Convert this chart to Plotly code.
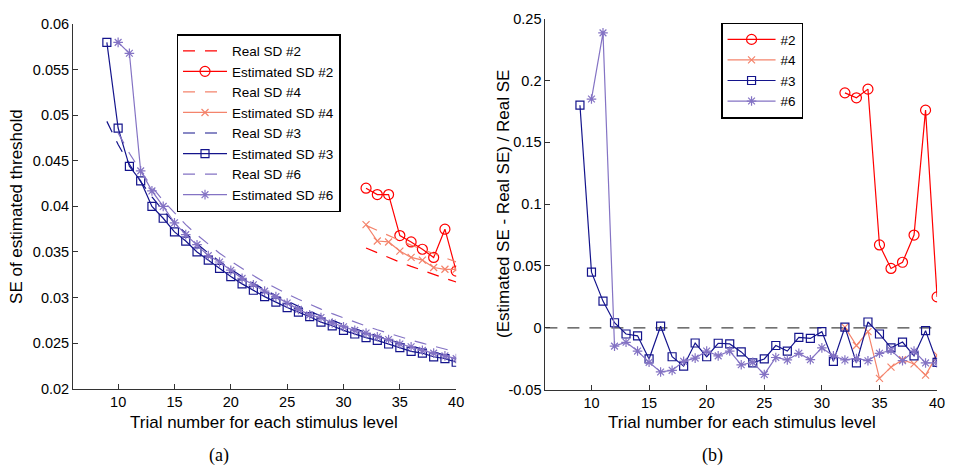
import plotly.graph_objects as go

# ---------------- data: panel (a) ----------------
n_est3 = list(range(9, 41))
est_sd3 = [0.0580, 0.0486, 0.0444, 0.0428, 0.0400, 0.0387, 0.0372, 0.0362, 0.0350, 0.0341,
           0.0332, 0.0323, 0.0315, 0.0308, 0.0301, 0.0295, 0.0289, 0.0284, 0.0279, 0.0273,
           0.0269, 0.0264, 0.0260, 0.0256, 0.0253, 0.0249, 0.0245, 0.0241, 0.0239, 0.0235,
           0.0233, 0.0229]
real_sd3 = [0.04933, 0.04680, 0.04462, 0.04272, 0.04105, 0.03955, 0.03821, 0.03700, 0.03590,
            0.03488, 0.03395, 0.03309, 0.03230, 0.03155, 0.03086, 0.03021, 0.02960, 0.02903,
            0.02848, 0.02797, 0.02748, 0.02702, 0.02658, 0.02616, 0.02576, 0.02538, 0.02502,
            0.02467, 0.02433, 0.02401, 0.02370, 0.02340]

n_est6 = list(range(10, 41))
est_sd6 = [0.0580, 0.0568, 0.0439, 0.0417, 0.0400, 0.0382, 0.0369, 0.0358, 0.0346, 0.0339,
           0.0330, 0.0321, 0.0314, 0.0307, 0.0301, 0.0294, 0.0287, 0.0281, 0.0278, 0.0272,
           0.0268, 0.0264, 0.0261, 0.0257, 0.0254, 0.0249, 0.0246, 0.0242, 0.0239, 0.0236,
           0.0233]
real_sd6 = [0.04807, 0.04583, 0.04388, 0.04216, 0.04062, 0.03925, 0.03800, 0.03687, 0.03583,
            0.03487, 0.03399, 0.03317, 0.03241, 0.03169, 0.03103, 0.03040, 0.02981, 0.02925,
            0.02873, 0.02823, 0.02775, 0.02730, 0.02687, 0.02646, 0.02607, 0.02569, 0.02533,
            0.02499, 0.02466, 0.02434, 0.02403]

n_late = list(range(32, 41))
est_sd2 = [0.0420, 0.0413, 0.0413, 0.0368, 0.0361, 0.0353, 0.0344, 0.0375, 0.0329]
real_sd2 = [0.03544, 0.03490, 0.03439, 0.03389, 0.03342, 0.03296, 0.03252, 0.03211, 0.03170]
est_sd4 = [0.0380, 0.0362, 0.0361, 0.0351, 0.0344, 0.0341, 0.0333, 0.0331, 0.0331]
real_sd4 = [0.03792, 0.03734, 0.03679, 0.03626, 0.03575, 0.03526, 0.03480, 0.03435, 0.03392]

# ---------------- data: panel (b) ----------------
rel3 = [0.180, 0.045, 0.0216, 0.0041, -0.0050, -0.0065, -0.0252, 0.0013, -0.0234, -0.0310,
        -0.0123, -0.0234, -0.0125, -0.0130, -0.0195, -0.0284, -0.0252, -0.0143, -0.0188,
        -0.0078, -0.0086, -0.0031, -0.0271, 0.0005, -0.0284, 0.0047, -0.0050, -0.0162,
        -0.0115, -0.0227, -0.0023, -0.0279]
rel6 = [0.185, 0.2385, -0.0148, -0.0117, -0.0188, -0.0279, -0.0357, -0.0344, -0.0271,
        -0.0245, -0.0188, -0.0227, -0.0188, -0.0299, -0.0279, -0.0377, -0.0240, -0.0260,
        -0.0206, -0.0258, -0.0162, -0.0227, -0.0260, -0.0248, -0.0266, -0.0206, -0.0182,
        -0.0266, -0.0188, -0.0284, -0.0284]
rel2 = [0.190, 0.186, 0.193, 0.067, 0.048, 0.053, 0.075, 0.176, 0.025]
rel4 = [0.0005, -0.0143, -0.0031, -0.0409, -0.0318, -0.0258, -0.0292, -0.0383, -0.0221]
zero_x = [6, 40]
zero_y = [0, 0]

x_ticks = [10, 15, 20, 25, 30, 35, 40]
ya_ticks = [0.02, 0.025, 0.03, 0.035, 0.04, 0.045, 0.05, 0.055, 0.06]
ya_text = ["0.02", "0.025", "0.03", "0.035", "0.04", "0.045", "0.05", "0.055", "0.06"]
yb_ticks = [-0.05, 0, 0.05, 0.1, 0.15, 0.2, 0.25]
yb_text = ["-0.05", "0", "0.05", "0.1", "0.15", "0.2", "0.25"]

# ---------------- styles ----------------
RED = "#FF0000"
SALMON = "#F4846C"
NAVY = "#14148C"
LAV = "#8473C4"
DASH = "12px,10px"

fig = go.Figure()

def add(x, y, name, color, dash=None, symbol=None, msize=8, xa="x", ya="y", legend="legend", show=True):
    mode = "lines+markers" if symbol else "lines"
    fig.add_trace(go.Scatter(
        x=x, y=y, name=name, mode=mode, xaxis=xa, yaxis=ya, legend=legend, showlegend=show,
        line=dict(color=color, width=1.2, dash=dash if dash else "solid"),
        marker=dict(symbol=symbol, size=msize, color=color, line=dict(color=color, width=1.2)) if symbol else None,
    ))

# panel (a)
add(n_late, real_sd2, "Real SD #2", RED, dash=DASH)
add(n_late, est_sd2, "Estimated SD #2", RED, symbol="circle-open", msize=10)
add(n_late, real_sd4, "Real SD #4", SALMON, dash=DASH)
add(n_late, est_sd4, "Estimated SD #4", SALMON, symbol="x-thin-open", msize=7)
add(n_est3, real_sd3, "Real SD #3", NAVY, dash=DASH)
add(n_est3, est_sd3, "Estimated SD #3", NAVY, symbol="square-open", msize=8)
add(n_est6, real_sd6, "Real SD #6", LAV, dash=DASH)
add(n_est6, est_sd6, "Estimated SD #6", LAV, symbol="asterisk-open", msize=8)

# panel (b)
fig.add_trace(go.Scatter(x=zero_x, y=zero_y, mode="lines", xaxis="x2", yaxis="y2", showlegend=False,
                         line=dict(color="#444444", width=1.2, dash=DASH)))
add(n_late, rel2, "#2", RED, symbol="circle-open", msize=10, xa="x2", ya="y2", legend="legend2")
add(n_late, rel4, "#4", SALMON, symbol="x-thin-open", msize=7, xa="x2", ya="y2", legend="legend2")
add(n_est3, rel3, "#3", NAVY, symbol="square-open", msize=8, xa="x2", ya="y2", legend="legend2")
add(n_est6, rel6, "#6", LAV, symbol="asterisk-open", msize=8, xa="x2", ya="y2", legend="legend2")

FONT = "Liberation Sans, Arial, sans-serif"
axis_common = dict(showline=True, linecolor="#333333", linewidth=1, ticks="inside", ticklen=5,
                   tickcolor="#333333", showgrid=False, zeroline=False, mirror=False,
                   tickfont=dict(family=FONT, size=14.5, color="black"))

fig.update_layout(
    width=958, height=473,
    margin=dict(l=0, r=0, t=0, b=0),
    paper_bgcolor="white", plot_bgcolor="white",
    font=dict(family=FONT, size=14, color="black"),
    xaxis=dict(domain=[0.0769, 0.4802], range=[6, 40], tickvals=x_ticks, anchor="y", **axis_common),
    yaxis=dict(domain=[0.167, 0.9647], range=[0.02, 0.06], tickvals=ya_ticks, ticktext=ya_text,
               anchor="x", **axis_common),
    xaxis2=dict(domain=[0.5741, 0.9864], range=[6, 40], tickvals=x_ticks, anchor="y2", **axis_common),
    yaxis2=dict(domain=[0.1649, 0.9767], range=[-0.05, 0.25], tickvals=yb_ticks, ticktext=yb_text,
                anchor="x2", **axis_common),
    legend=dict(x=0.1858, y=0.943, xanchor="left", yanchor="top", bordercolor="black", borderwidth=1.5,
                bgcolor="white", font=dict(family=FONT, size=13.5), tracegroupgap=0, itemwidth=44),
    legend2=dict(x=0.759, y=0.968, xanchor="left", yanchor="top", bordercolor="black", borderwidth=1.5,
                 bgcolor="white", font=dict(family=FONT, size=13.5), tracegroupgap=0, itemwidth=48),
)

def ann(text, x, y, size=17, angle=0, family=FONT):
    fig.add_annotation(text=text, x=x / 958, y=1 - y / 473, xref="paper", yref="paper",
                       showarrow=False, textangle=angle, xanchor="center", yanchor="middle",
                       font=dict(family=family, size=size, color="black"))

ann("Trial number for each stimulus level", 266, 429)
ann("Trial number for each stimulus level", 748, 429)
ann("SE of estimated threshold", 16, 205, angle=-90)
ann("(Estimated SE - Real SE) / Real SE", 507, 203, angle=-90)
ann("(a)", 221, 463, size=18, family="Liberation Serif, Times New Roman, serif")
ann("(b)", 719, 463, size=18, family="Liberation Serif, Times New Roman, serif")

fig.write_html("out.html",
               post_script="document.body.style.margin='0px';document.body.style.padding='0px';"
                           "document.body.style.overflow='hidden';")
